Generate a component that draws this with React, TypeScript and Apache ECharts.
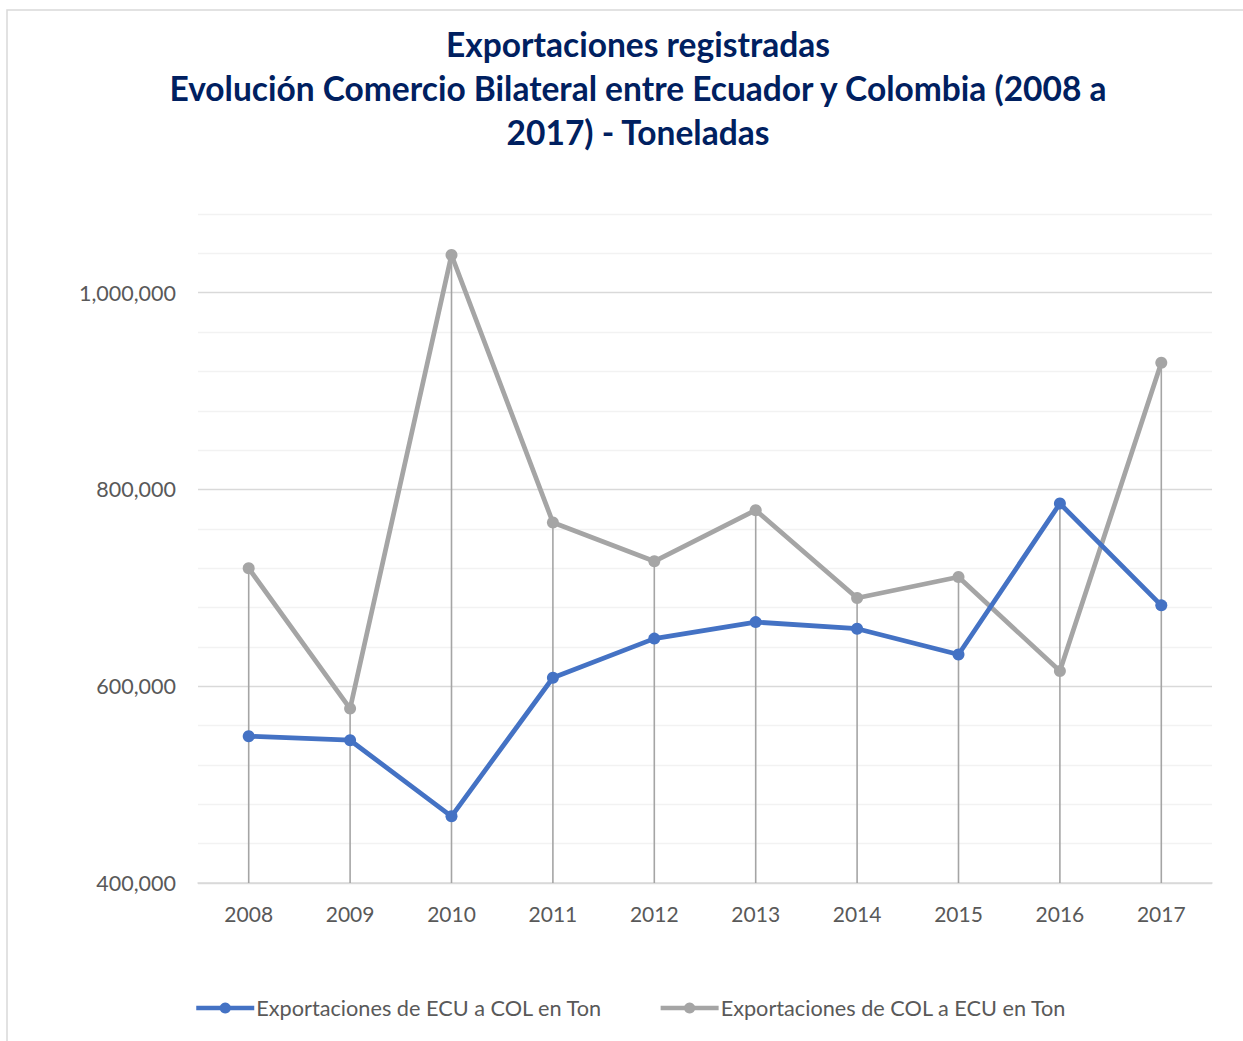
import React, { useEffect, useRef } from "react";
import * as echarts from "echarts";

const years = ["2008", "2009", "2010", "2011", "2012", "2013", "2014", "2015", "2016", "2017"];
const ecuToCol = [549200, 545100, 467800, 608600, 648400, 665200, 658500, 632300, 785700, 682200];
const colToEcu = [719900, 577300, 1038300, 766400, 727000, 778900, 689700, 711000, 615400, 928800];
const seriesNames = ["Exportaciones de ECU a COL en Ton", "Exportaciones de COL a ECU en Ton"];
const titleLines = [
  "Exportaciones registradas",
  "Evolución Comercio Bilateral entre Ecuador y Colombia (2008 a",
  "2017) - Toneladas",
];

export default function App() {
  const ref = useRef<HTMLDivElement>(null);
  useEffect(() => {
    document.body.style.margin = "0";
    if (!ref.current) return;
    const chart = echarts.init(ref.current, null, { renderer: "svg" });
    const dropValues = years.map((_, i) => Math.max(ecuToCol[i], colToEcu[i]));
    const font = "Lato";
    chart.setOption({
      animation: false,
      backgroundColor: "#ffffff",
      graphic: [
        {
          type: "rect",
          silent: true,
          z: -10,
          shape: { x: 7, y: 10, width: 1400, height: 1200 },
          style: { fill: "none", stroke: "#d9d9d9", lineWidth: 1.5 },
        },
        ...titleLines.map((t, i) => ({
          type: "text",
          x: 638,
          y: 44 + i * 44,
          style: {
            text: t,
            fill: "#002060",
            fontFamily: font,
            fontWeight: "bold",
            fontSize: 33.5,
            align: "center",
            verticalAlign: "middle",
          },
        })),
      ],
      grid: { left: 198, right: 31, top: 214, bottom: 158 },
      legend: {
        data: seriesNames,
        left: 194,
        top: 997,
        padding: 0,
        itemWidth: 58,
        itemHeight: 14,
        itemGap: 56,
        lineStyle: { width: 4.5 },
        textStyle: { color: "#595959", fontSize: 21.7, fontFamily: font, padding: [0, 0, 0, -3] },
      },
      xAxis: {
        type: "category",
        data: years,
        boundaryGap: true,
        axisLine: { lineStyle: { color: "#d9d9d9", width: 1.5 } },
        axisTick: { show: false },
        axisLabel: { color: "#595959", fontSize: 21, fontFamily: font, margin: 20 },
      },
      yAxis: {
        type: "value",
        min: 400000,
        max: 1080000,
        interval: 40000,
        axisLine: { show: false },
        axisTick: { show: false },
        axisLabel: {
          color: "#595959",
          fontSize: 21.5,
          fontFamily: font,
          margin: 22,
          formatter: (v: number) => (v % 200000 === 0 ? v.toLocaleString("en-US") : ""),
        },
        splitLine: {
          lineStyle: {
            color: ["#d9d9d9", "#f2f2f2", "#f2f2f2", "#f2f2f2", "#f2f2f2"],
            width: 1.3,
          },
        },
      },
      series: [
        {
          name: "drop",
          type: "bar",
          data: dropValues,
          barWidth: 1.6,
          itemStyle: { color: "#a5a5a5" },
          silent: true,
          z: 1,
        },
        {
          name: seriesNames[0],
          type: "line",
          data: ecuToCol,
          symbol: "circle",
          symbolSize: 12,
          lineStyle: { color: "#4472c4", width: 4.75 },
          itemStyle: { color: "#4472c4" },
          z: 3,
        },
        {
          name: seriesNames[1],
          type: "line",
          data: colToEcu,
          symbol: "circle",
          symbolSize: 12,
          lineStyle: { color: "#a5a5a5", width: 4.75 },
          itemStyle: { color: "#a5a5a5" },
          z: 2,
        },
      ],
    });
    return () => chart.dispose();
  }, []);
  return <div ref={ref} style={{ width: 1243, height: 1041 }} />;
}
